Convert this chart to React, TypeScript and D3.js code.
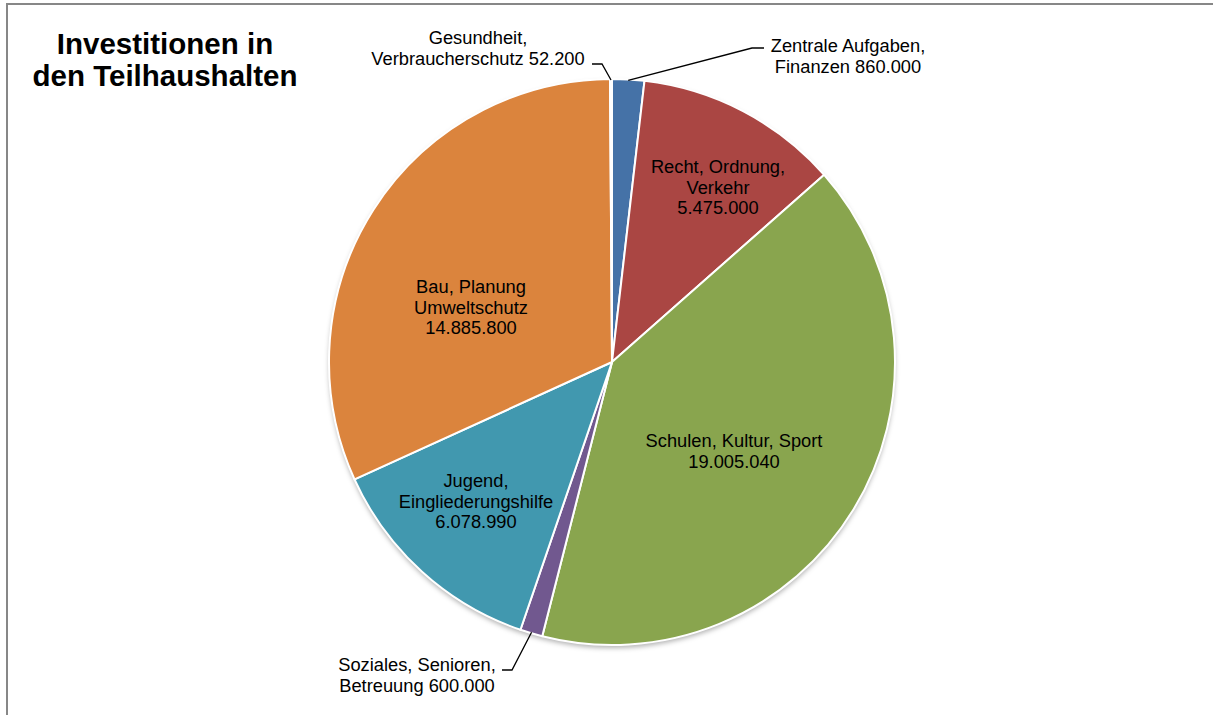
import React from "react";
import * as d3 from "d3";

// ---- data ----
const categories = [
  "Zentrale Aufgaben, Finanzen",
  "Recht, Ordnung, Verkehr",
  "Schulen, Kultur, Sport",
  "Soziales, Senioren, Betreuung",
  "Jugend, Eingliederungshilfe",
  "Bau, Planung Umweltschutz",
  "Gesundheit, Verbraucherschutz",
];
const values = [860000, 5475000, 19005040, 600000, 6078990, 14885800, 52200];
const labelLines = [
  ["Zentrale Aufgaben,", "Finanzen"],
  ["Recht, Ordnung,", "Verkehr"],
  ["Schulen, Kultur, Sport"],
  ["Soziales, Senioren,", "Betreuung"],
  ["Jugend,", "Eingliederungshilfe"],
  ["Bau, Planung", "Umweltschutz"],
  ["Gesundheit,", "Verbraucherschutz"],
];
const colors = ["#4572A7", "#AA4643", "#89A54E", "#71588F", "#4198AF", "#DB843D", "#92A8CD"];
const title = ["Investitionen in", "den Teilhaushalten"];

// ---- layout ----
const W = 1213;
const H = 715;
const cx = 612;
const cy = 362;
const R = 283;
const FONT = "'Liberation Sans', Arial, Helvetica, sans-serif";
const LINE_H = 20.5;

// label placement: x center, first baseline, inside?, leader points (from label toward pie)
const labelLayout = [
  { x: 848, y: 52, inside: false, leader: [[764, 48], [752, 48]] },
  { x: 718, y: 173, inside: true, leader: [] },
  { x: 734, y: 447, inside: true, leader: [] },
  { x: 417, y: 671, inside: false, leader: [[502, 670], [512, 670]] },
  { x: 476, y: 487, inside: true, leader: [] },
  { x: 471, y: 293, inside: true, leader: [] },
  { x: 478, y: 44, inside: false, leader: [[592, 64], [602, 64]] },
];

const locale = d3.formatLocale({ decimal: ",", thousands: ".", grouping: [3], currency: ["", " €"] });
const fmt = locale.format(",d");

export default function App() {
  const pie = d3
    .pie<number>()
    .sort(null)
    .value((d) => d)
    .startAngle(0)
    .endAngle(2 * Math.PI);
  const arcs = pie(values);
  const arcGen = d3.arc<d3.PieArcDatum<number>>().innerRadius(0).outerRadius(R);
  const edgeArc = d3.arc<d3.PieArcDatum<number>>().innerRadius(R - 1).outerRadius(R - 1);

  return (
    <svg
      width={W}
      height={H}
      style={{ position: "absolute", left: 0, top: 0, background: "#fff" }}
      fontFamily={FONT}
    >
      <defs>
        <filter id="shadow" x="-10%" y="-10%" width="120%" height="125%">
          <feDropShadow dx="0" dy="3" stdDeviation="2.5" floodColor="#000" floodOpacity="0.3" />
        </filter>
      </defs>
      <rect x={0} y={0} width={W} height={H} fill="#fff" />
      <rect x={7} y={4} width={W + 20} height={H + 20} fill="none" stroke="#878787" strokeWidth={2} />

      {title.map((t, i) => (
        <text key={i} x={165} y={54 + i * 32} textAnchor="middle" fontSize={29.5} fontWeight="bold" fill="#000">
          {t}
        </text>
      ))}

      <g transform={`translate(${cx},${cy})`}>
        <g filter="url(#shadow)">
          <circle r={R} fill="#fff" />
        </g>
        {arcs.map((a, i) => (
          <path key={categories[i]} d={arcGen(a) || ""} fill={colors[i]} stroke="#fff" strokeWidth={2} strokeLinejoin="round" />
        ))}
      </g>

      {arcs.map((a, i) => {
        const L = labelLayout[i];
        const lines = labelLines[i].slice();
        if (L.inside) {
          lines.push(fmt(values[i]));
        } else {
          lines[lines.length - 1] = lines[lines.length - 1] + " " + fmt(values[i]);
        }
        let leader = null;
        if (L.leader.length) {
          const c = edgeArc.centroid(a);
          const pts = [...L.leader, [cx + c[0], cy + c[1]]];
          leader = (
            <path
              d={d3.line()(pts as [number, number][]) || ""}
              fill="none"
              stroke="#000"
              strokeWidth={1.3}
            />
          );
        }
        return (
          <g key={"lbl" + i}>
            {leader}
            {lines.map((t, j) => (
              <text key={j} x={L.x} y={L.y + j * LINE_H} textAnchor="middle" fontSize={18.3} fill="#000">
                {t}
              </text>
            ))}
          </g>
        );
      })}
    </svg>
  );
}
